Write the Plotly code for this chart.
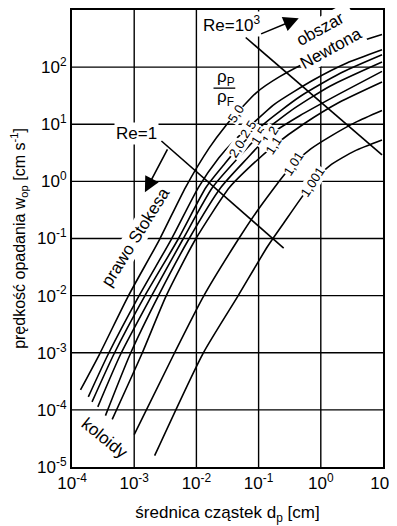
import plotly.graph_objects as go

# ---- data (d in cm, w in cm/s) ----
d_50 = [1.37e-4, 2.79e-4, 8.1e-4, 2.55e-3, 6.7e-3, 1.61e-2, 2.92e-2, 4.7e-2, 9.25e-2, 0.218, 0.771, 2.63, 9.64]
w_50 = [2.24e-4, 9.6e-4, 1e-2, 9.6e-2, 0.788, 3.86, 9.25, 16.7, 35.9, 68.1, 139, 237, 373]

d_25 = [1.83e-4, 3.85e-4, 1.2e-3, 3.93e-3, 1.08e-2, 2.3e-2, 4.0e-2, 6.7e-2, 0.181, 0.771, 2.63, 9.64]
w_25 = [1.69e-4, 9.6e-4, 1e-2, 9.6e-2, 0.788, 2.59, 5.09, 8.53, 22.5, 60, 118, 201]

d_20 = [2.1e-4, 4.75e-4, 1.49e-3, 5.05e-3, 1.43e-2, 2.7e-2, 4.52e-2, 0.125, 0.458, 2.02, 9.64]
w_20 = [1.38e-4, 9.6e-4, 1e-2, 9.6e-2, 0.788, 1.89, 3.71, 10.4, 30.3, 77.4, 164]

d_15 = [2.6e-4, 6.1e-4, 1.91e-3, 6.04e-3, 1.82e-2, 4.7e-2, 0.1, 0.316, 1.40, 9.64]
w_15 = [1.13e-4, 9.6e-4, 1e-2, 9.6e-2, 0.788, 2.59, 6.21, 16.7, 46.4, 123]

d_12 = [3.45e-4, 8.67e-4, 2.46e-3, 7.5e-3, 2.49e-2, 6.46e-2, 0.150, 0.458, 2.02, 9.64]
w_12 = [7.94e-5, 9.6e-4, 1e-2, 9.6e-2, 0.788, 2.49, 6.46, 14.1, 34.4, 84.3]

d_11 = [4.43e-4, 1.33e-3, 3.28e-3, 9.64e-3, 3.42e-2, 7.88e-2, 0.175, 0.552, 2.02, 9.64]
w_11 = [6.81e-5, 9.6e-4, 1e-2, 9.6e-2, 0.788, 1.96, 4.18, 10.4, 24.5, 55.1]

d_101 = [1e-3, 4.38e-3, 1.32e-2, 4.7e-2, 9.25e-2, 0.162, 0.253, 0.367, 0.690, 1.45, 3.67, 9.64]
w_101 = [3.69e-5, 9.6e-4, 1e-2, 9.6e-2, 0.292, 0.673, 1.27, 2.04, 3.71, 6.21, 10.9, 17.4]

d_1001 = [2.13e-3, 1.27e-2, 4.7e-2, 0.140, 0.262, 0.458, 0.743, 1.40, 3.53, 9.64]
w_1001 = [1.58e-5, 9.6e-4, 1e-2, 7.31e-2, 0.196, 0.470, 0.961, 1.89, 3.42, 5.30]

curve_names = ["5,0", "2,5", "2,0", "1,5", "1,2", "1,1", "1,01", "1,001"]
curve_d = [d_50, d_25, d_20, d_15, d_12, d_11, d_101, d_1001]
curve_w = [w_50, w_25, w_20, w_15, w_12, w_11, w_101, w_1001]
# label positions on the curves (log10 d, log10 w)
label_logd = [-1.362, -1.172, -1.345, -1.0, -0.823, -0.758, -0.435, -0.129]
label_logw = [1.185, 0.914, 0.569, 0.793, 0.810, 0.621, 0.31, 0.0]

re1_d = [2.74e-3, 0.253]
re1_w = [5.09, 0.0678]
re1000_d = [6.21e-2, 9.64]
re1000_w = [330, 2.92]

x_decades = [-4, -3, -2, -1, 0, 1]
y_decades = [-5, -4, -3, -2, -1, 0, 1, 2, 3]
x_ticks = [10.0 ** k for k in x_decades]
x_ticktext = ["10<sup>-4</sup>", "10<sup>-3</sup>", "10<sup>-2</sup>", "10<sup>-1</sup>", "10<sup>0</sup>", "10<sup>1</sup>"]
y_ticks = [10.0 ** k for k in y_decades]
y_ticktext = ["10<sup>-5</sup>", "10<sup>-4</sup>", "10<sup>-3</sup>", "10<sup>-2</sup>", "10<sup>-1</sup>",
              "10<sup>0</sup>", "10<sup>1</sup>", "10<sup>2</sup>", "10<sup>3</sup>"]

FONT = "Liberation Sans, Arial, sans-serif"
LW = 1.6

fig = go.Figure()
for d, w in zip(curve_d, curve_w):
    fig.add_trace(go.Scatter(x=d, y=w, mode="lines",
                             line=dict(color="black", width=LW, shape="spline", smoothing=0.6),
                             hoverinfo="skip", showlegend=False))
fig.add_trace(go.Scatter(x=re1_d, y=re1_w, mode="lines", line=dict(color="black", width=LW),
                         hoverinfo="skip", showlegend=False))
fig.add_trace(go.Scatter(x=re1000_d, y=re1000_w, mode="lines", line=dict(color="black", width=LW),
                         hoverinfo="skip", showlegend=False))

# grid lines (one per decade)
xmin, xmax = x_decades[0], x_decades[-1]
ymin, ymax = y_decades[0], y_decades[-1]
shapes = []
for k in x_decades[1:-1]:
    p = (k - xmin) / (xmax - xmin)
    shapes.append(dict(type="line", xref="paper", yref="paper", x0=p, x1=p, y0=0, y1=1,
                       layer="below", line=dict(color="black", width=1.4)))
for k in y_decades[1:-1]:
    p = (k - ymin) / (ymax - ymin)
    shapes.append(dict(type="line", xref="paper", yref="paper", x0=0, x1=1, y0=p, y1=p,
                       layer="below", line=dict(color="black", width=1.4)))
# fraction bar of rho_P / rho_F
shapes.append(dict(type="line", xref="paper", yref="paper", x0=0.455, x1=0.525, y0=0.829, y1=0.829,
                   line=dict(color="black", width=1.3)))

ann = []
for name, lx, ly in zip(curve_names, label_logd, label_logw):
    ann.append(dict(x=lx, y=ly, xref="x", yref="y", text=name, showarrow=False,
                    xanchor="center", yanchor="middle",
                    textangle=-57, bgcolor="white", borderpad=0,
                    font=dict(family=FONT, size=13, color="black")))

def txt(x, y, t, angle=0, size=17, bg="white"):
    return dict(x=x, y=y, xref="paper", yref="paper", text=t, showarrow=False, textangle=angle,
                xanchor="center", yanchor="middle",
                bgcolor=bg, borderpad=1, font=dict(family=FONT, size=size, color="black"))

ann += [
    txt(0.209, 0.730, "Re=1"),
    txt(0.514, 0.970, "Re=10<sup>3</sup>"),
    txt(0.817, 0.937, "obszar<br>Newtona", angle=-29),
    txt(0.203, 0.503, "prawo Stokesa", angle=-58),
    txt(0.106, 0.063, "koloidy", angle=39),
    txt(0.495, 0.851, "ρ<sub>P</sub>", bg="rgba(0,0,0,0)"),
    txt(0.495, 0.808, "ρ<sub>F</sub>", bg="rgba(0,0,0,0)"),
    # arrows
    dict(x=-2.828, y=-0.190, ax=-2.453, ay=0.586, xref="x", yref="y", axref="x", ayref="y",
         text="", showarrow=True, arrowhead=2, arrowsize=1.9, arrowwidth=LW, arrowcolor="black"),
    dict(x=-0.355, y=2.857, ax=-0.984, ay=2.571, xref="x", yref="y", axref="x", ayref="y",
         text="", showarrow=True, arrowhead=2, arrowsize=1.9, arrowwidth=LW, arrowcolor="black"),
]

# the page adds an 8 px body margin, so the figure is sized/margined to compensate
fig.update_layout(
    width=389, height=518,
    margin=dict(l=64, r=14, t=0, b=59),
    paper_bgcolor="white", plot_bgcolor="rgba(0,0,0,0)",
    font=dict(family=FONT, color="black", size=17),
    annotations=ann,
    shapes=shapes,
    showlegend=False,
)
axis_common = dict(type="log", showgrid=False,
                   showline=True, linecolor="black", linewidth=2, mirror=True,
                   ticks="", zeroline=False, tickfont=dict(family=FONT, size=17, color="black"))
fig.update_xaxes(range=[xmin, xmax], tickvals=x_ticks, ticktext=x_ticktext,
                 title=dict(text="średnica cząstek d<sub>p</sub> [cm]", font=dict(size=17), standoff=14),
                 **axis_common)
fig.update_yaxes(range=[ymin, ymax], tickvals=y_ticks, ticktext=y_ticktext,
                 title=dict(text="prędkość opadania w<sub>op</sub> [cm s<sup>-1</sup>]", font=dict(size=16), standoff=13),
                 **axis_common)

fig.write_html("out.html")
